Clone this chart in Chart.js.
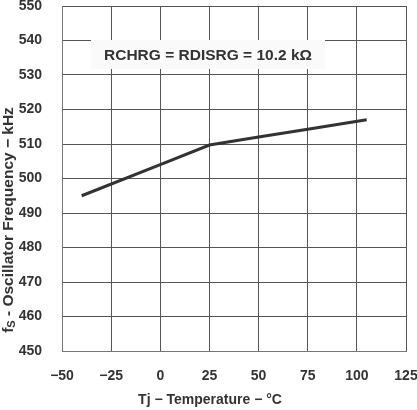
<!DOCTYPE html>
<html lang="en">
<head>
  <meta charset="UTF-8" />
  <title>Oscillator Frequency vs Temperature</title>
  <script src="https://cdn.jsdelivr.net/npm/chart.js"></script>
  <style>
    html, body { margin: 0; padding: 0; background: #fff; }
    #wrap { width: 417px; height: 410px; position: relative; }
  </style>
</head>
<body>
  <div id="wrap"><canvas id="freqChart"></canvas></div>

  <script>
    // readings taken off the curve
    const temps = [-40, 0, 25, 50, 75, 105];
    const freqs = [495, 504, 509.7, 512, 514.3, 517];

    const xTicks = [-50, -25, 0, 25, 50, 75, 100, 125];
    const yTicks = [450, 460, 470, 480, 490, 500, 510, 520, 530, 540, 550];

    const noteText = 'RCHRG = RDISRG = 10.2 k\u03A9';
    const xTitle = 'Tj \u2212 Temperature \u2212 \u00B0C';
    // y title is drawn in parts so the S can sit lower and smaller
    const yTitleParts = ['f', 'S', ' - Oscillator Frequency \u2212 kHz'];

    const ink = '#333';
    const fam = '"Liberation Sans", Arial, sans-serif';
    const bold14 = { family: 'Liberation Sans, Arial, sans-serif', size: 14, weight: 'bold' };

    // edge labels should not shrink the plot area
    function noEdgePadding(axis) {
      axis.paddingTop = 0;
      axis.paddingBottom = 0;
      axis.paddingLeft = 0;
      axis.paddingRight = 0;
    }

    // note box over the grid + the two axis titles
    const extras = {
      id: 'extras',
      afterDatasetsDraw(chart) {
        const { ctx } = chart;
        ctx.save();
        ctx.fillStyle = '#fafafa';
        ctx.fillRect(91, 40, 234, 29);
        ctx.fillStyle = ink;
        ctx.font = 'bold 15.5px ' + fam;
        ctx.textAlign = 'center';
        ctx.textBaseline = 'middle';
        ctx.fillText(noteText, 208, 56);

        ctx.font = 'bold 14px ' + fam;
        ctx.fillText(xTitle, 210, 400);

        // rotated y title
        ctx.translate(13, 220);
        ctx.rotate(-Math.PI / 2);
        ctx.textAlign = 'left';
        ctx.textBaseline = 'alphabetic';
        const big = 'bold 15.5px ' + fam;
        const small = 'bold 11px ' + fam;
        ctx.font = big;
        const w0 = ctx.measureText(yTitleParts[0]).width;
        const w2 = ctx.measureText(yTitleParts[2]).width;
        ctx.font = small;
        const w1 = ctx.measureText(yTitleParts[1]).width;
        let x = -(w0 + w1 + w2) / 2;
        ctx.font = big;
        ctx.fillText(yTitleParts[0], x, 0);
        x += w0;
        ctx.font = small;
        ctx.fillText(yTitleParts[1], x, 2);
        x += w1;
        ctx.font = big;
        ctx.fillText(yTitleParts[2], x, 0);
        ctx.restore();
      }
    };

    const ctx = document.getElementById('freqChart').getContext('2d');
    new Chart(ctx, {
      type: 'line',
      data: {
        datasets: [{
          data: temps.map((t, i) => ({ x: t, y: freqs[i] })),
          borderColor: ink,
          borderWidth: 3,
          pointRadius: 0,
          fill: false,
          tension: 0
        }]
      },
      options: {
        responsive: true,
        maintainAspectRatio: false,
        animation: false,
        layout: { padding: { top: 6, right: 11, left: 0, bottom: 0 } },
        plugins: {
          legend: { display: false },
          tooltip: { enabled: false }
        },
        scales: {
          x: {
            type: 'linear',
            min: xTicks[0],
            max: xTicks[xTicks.length - 1],
            afterBuildTicks: axis => { axis.ticks = xTicks.map(v => ({ value: v })); },
            afterFit: axis => { axis.height = 59; noEdgePadding(axis); },
            grid: { color: '#555', lineWidth: 1, drawTicks: false },
            border: { color: '#777' },
            ticks: {
              color: ink,
              font: bold14,
              padding: 17,
              maxRotation: 0,
              callback: v => String(v).replace('-', '\u2212')
            }
          },
          y: {
            min: yTicks[0],
            max: yTicks[yTicks.length - 1],
            afterBuildTicks: axis => { axis.ticks = yTicks.map(v => ({ value: v })); },
            afterFit: axis => { axis.width = 62; noEdgePadding(axis); },
            grid: { color: '#555', lineWidth: 1, drawTicks: false },
            border: { color: '#777' },
            ticks: {
              color: ink,
              font: bold14,
              padding: 20
            }
          }
        }
      },
      plugins: [extras]
    });
  </script>
</body>
</html>
